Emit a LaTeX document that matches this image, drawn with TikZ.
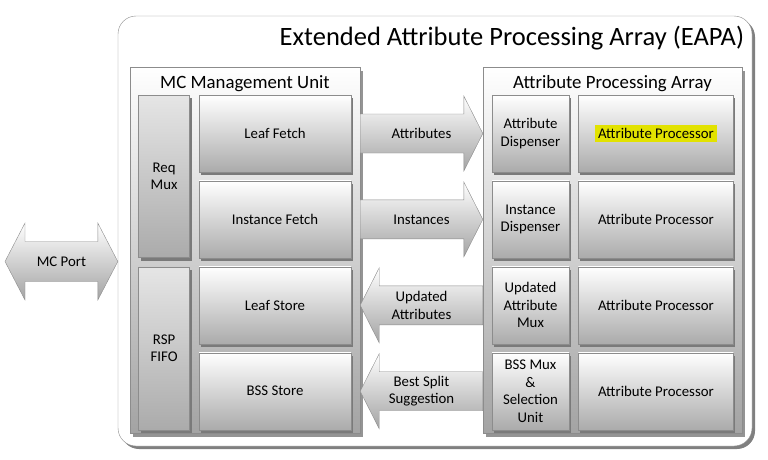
\documentclass[tikz,border=0pt]{standalone}
\usepackage{fontspec}
\setmainfont{Carlito}
\usetikzlibrary{positioning, calc, shadows}
\definecolor{boxline}{HTML}{8C8C8C}
\definecolor{hlyellow}{HTML}{E2E200}

\tikzset{
  boxshadow/.style={drop shadow={shadow xshift=2pt, shadow yshift=-3pt, fill=black!52, opacity=1}},
  unitbox/.style={draw=boxline, top color=white, bottom color=black!33, boxshadow, align=center,
    minimum height=77pt, inner sep=1pt, font=\fontsize{14.8}{17.5}\selectfont},
  tallbox/.style={unitbox, top color=black!10, minimum width=51pt, minimum height=162.5pt},
  groupbox/.style={draw=boxline, top color=white, bottom color=black!36, minimum height=366pt,
    drop shadow={shadow xshift=3pt, shadow yshift=-4pt, fill=black!42, opacity=1}},
  grouptitle/.style={font=\fontsize{18.8}{21}\selectfont},
  bigarrow/.style={draw=boxline, top color=white, bottom color=black!36},
  arrowlabel/.style={align=center, font=\fontsize{14.8}{17.5}\selectfont},
}

% block arrow from #1 (tail) to #2 (tip), label #3
\newcommand{\blockarrow}[3]{%
  \coordinate (ba) at ($(#2)!19pt!(#1)$);
  \path[bigarrow] ($(#1)!19.5pt!90:(#2)$) -- ($(ba)!19.5pt!-90:(#1)$)
    -- ($(ba)!37.5pt!-90:(#1)$) -- (#2) -- ($(ba)!37.5pt!90:(#1)$)
    -- ($(ba)!19.5pt!90:(#1)$) -- ($(#1)!19.5pt!-90:(#2)$) -- cycle;
  \node[arrowlabel] (#1-lbl) at ($(#1)!0.5!(#2)$) {#3};
}

\begin{document}
\begin{tikzpicture}[x=1pt, y=-1pt]
\useasboundingbox (0,0) rectangle (768,459);

% outer frame
\node[draw=boxline, fill=white, rounded corners=18pt, minimum width=634pt, minimum height=430pt,
  drop shadow={shadow xshift=3pt, shadow yshift=-3pt, fill=black!50, opacity=1}] (eapa) at (435,231) {};
\node[anchor=east, inner sep=0pt, font=\fontsize{26.5}{29}\selectfont] (eapatitle)
  at ($(eapa.north east)+(-8,22)$) {Extended Attribute Processing Array (EAPA)};

% the two units
\node[groupbox, minimum width=230pt] (mcu) at (245,250) {};
\node[groupbox, minimum width=259pt] (apa) at (612.5,250) {};
\node[grouptitle] (mcutitle) at ($(mcu.north)+(0,16.5)$) {MC Management Unit};
\node[grouptitle] (apatitle) at ($(apa.north)+(0,16.5)$) {Attribute Processing Array};

% MC management unit
\node[unitbox, minimum width=152pt] (leaff) at (275,133.5) {Leaf Fetch};
\node[unitbox, minimum width=152pt, below=8.5pt of leaff] (instf) {Instance Fetch};
\node[unitbox, minimum width=152pt, below=8.5pt of instf] (leafs) {Leaf Store};
\node[unitbox, minimum width=152pt, below=8.5pt of leafs] (bsss) {BSS Store};
\node[tallbox, anchor=north east] (reqmux) at ($(leaff.north west)+(-9,0)$) {Req\\Mux};
\node[tallbox, anchor=south east] (rspfifo) at ($(bsss.south west)+(-9,0)$) {RSP\\FIFO};

% attribute processing array
\node[unitbox, minimum width=77pt] (attrd) at (530.5,133.5) {Attribute\\Dispenser};
\node[unitbox, minimum width=77pt, below=8.5pt of attrd] (instd) {Instance\\Dispenser};
\node[unitbox, minimum width=77pt, below=8.5pt of instd] (updmux) {Updated\\Attribute\\Mux};
\node[unitbox, minimum width=77pt, below=8.5pt of updmux] (bssmux) {BSS Mux\\\&\\Selection\\Unit};
\node[unitbox, minimum width=155pt, right=9pt of attrd] (proc1) {\colorbox{hlyellow}{Attribute Processor}};
\node[unitbox, minimum width=155pt, right=9pt of instd] (proc2) {Attribute Processor};
\node[unitbox, minimum width=155pt, right=9pt of updmux] (proc3) {Attribute Processor};
\node[unitbox, minimum width=155pt, right=9pt of bssmux] (proc4) {Attribute Processor};

% data paths
\coordinate (attrsrc) at (mcu.east |- leaff);
\coordinate (attrdst) at (apa.west |- attrd);
\coordinate (instsrc) at (mcu.east |- instf);
\coordinate (instdst) at (apa.west |- instd);
\coordinate (updsrc) at (apa.west |- updmux);
\coordinate (upddst) at (mcu.east |- leafs);
\coordinate (bsssrc) at (apa.west |- bssmux);
\coordinate (bssdst) at (mcu.east |- bsss);
\blockarrow{attrsrc}{attrdst}{Attributes}
\blockarrow{instsrc}{instdst}{Instances}
\blockarrow{updsrc}{upddst}{Updated\\Attributes}
\blockarrow{bsssrc}{bssdst}{Best Split\\Suggestion}

% MC port
\coordinate (portend) at (5,261.5);
\coordinate (portbox) at (eapa.west |- portend);
\path[bigarrow] (portend) -- ($(portend)+(20,-38.5)$) -- ($(portend)+(20,-20)$)
  -- ($(portbox)+(-20,-20)$) -- ($(portbox)+(-20,-38.5)$) -- (portbox)
  -- ($(portbox)+(-20,38.5)$) -- ($(portbox)+(-20,20)$) -- ($(portend)+(20,20)$)
  -- ($(portend)+(20,38.5)$) -- cycle;
\node[arrowlabel] (portlbl) at ($(portend)!0.5!(portbox)$) {MC Port};
\end{tikzpicture}
\end{document}
